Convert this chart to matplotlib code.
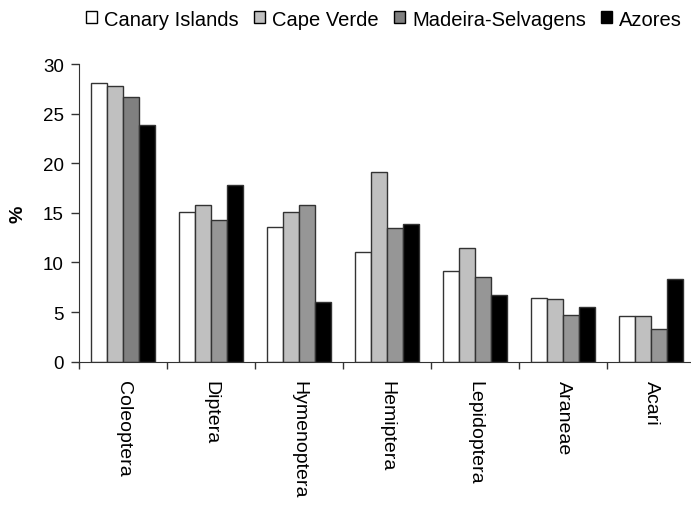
import numpy as np
import matplotlib.pyplot as plt

plt.rcParams['font.family'] = ['Liberation Sans', 'DejaVu Sans']

categories = ['Coleoptera', 'Diptera', 'Hymenoptera', 'Hemiptera',
              'Lepidoptera', 'Araneae', 'Acari']
series_names = ['Canary Islands', 'Cape Verde', 'Madeira-Selvagens', 'Azores']
canary = [28.1, 15.1, 13.6, 11.1, 9.1, 6.4, 4.6]
cape_verde = [27.8, 15.8, 15.1, 19.1, 11.5, 6.3, 4.6]
madeira = [26.7, 14.3, 15.8, 13.5, 8.5, 4.7, 3.3]
azores = [23.9, 17.8, 6.0, 13.9, 6.7, 5.5, 8.3]
colors = ['#ffffff', '#c0c0c0', '#969696', '#000000']
y_ticks = [0, 5, 10, 15, 20, 25, 30]

fig = plt.figure(figsize=(6.91, 5.06), dpi=100)
ax = fig.add_axes([79 / 691, 143.3 / 506, 616 / 691, 297.7 / 506])

x = np.arange(len(categories))
w = 0.184
for i, (vals, name, c) in enumerate(zip([canary, cape_verde, madeira, azores], series_names, colors)):
    ax.bar(x + (i - 1.5) * w, vals, w, color=c, edgecolor='#333333', linewidth=1, label=name)
# first Madeira bar is a shade darker in the original
ax.patches[2 * len(categories)].set_facecolor('#808080')

ax.set_xlim(-0.5, len(categories) - 0.5)
ax.set_ylim(0, 30)
ax.set_yticks(y_ticks)
ax.tick_params(axis='y', direction='out', length=6, width=1, labelsize=13.5, pad=5, color='#333333')
ax.set_xticks(np.arange(len(categories) + 1) - 0.5)
ax.set_xticklabels([])
ax.set_xticks(x, minor=True)
ax.set_xticklabels(categories, minor=True, rotation=270, fontsize=14, va='top', ha='center')
ax.tick_params(axis='x', which='major', direction='out', length=5, width=1, color='#333333')
ax.tick_params(axis='x', which='minor', length=0, pad=13)
for s in ['top', 'right']:
    ax.spines[s].set_visible(False)
ax.spines['left'].set_color('#333333')
ax.spines['bottom'].set_color('#333333')
ax.set_ylabel('%', fontsize=14, fontweight='bold', labelpad=12)

leg = fig.legend(loc='center', bbox_to_anchor=(0.5557, 1 - 20 / 506), ncol=4, frameon=False,
                 fontsize=14.5, handlelength=0.55, handleheight=0.55, handletextpad=0.35,
                 columnspacing=0.75, borderpad=0)
for h in leg.legend_handles:
    h.set_edgecolor('#000000')

fig.savefig('out.png', dpi=100)
